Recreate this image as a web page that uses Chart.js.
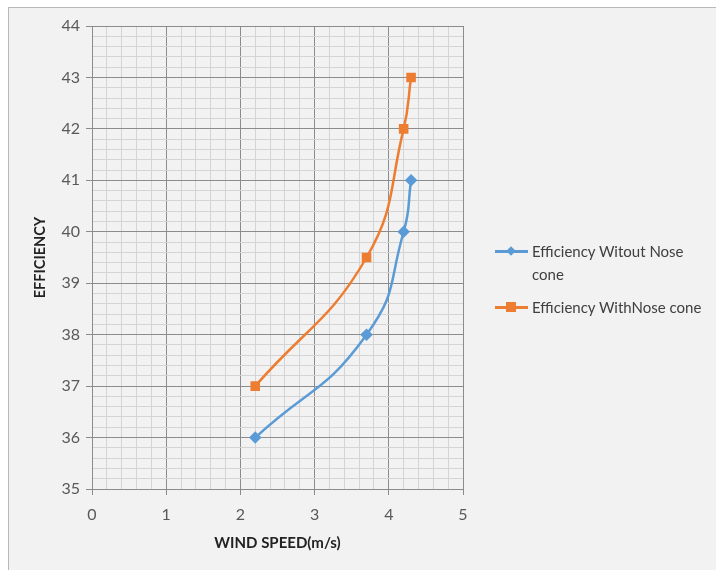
<!DOCTYPE html>
<html>
<head>
  <meta charset="UTF-8">
  <title>Efficiency vs Wind Speed</title>
  <script src="https://cdn.jsdelivr.net/npm/chart.js"></script>
  <style>
    body {
      margin: 0;
      background: #ffffff;
      font-family: Lato, 'Open Sans', sans-serif;
    }

    #frame {
      position: absolute;
      left: 8px;
      top: 7px;
      width: 720px;
      height: 580px;
      background: #f2f2f2;
      border: 1px solid #b8b8b8;
    }

    #wrap {
      position: absolute;
      left: 0;
      top: 0;
      width: 716px;
      height: 570px;
    }

    .legend-item {
      position: absolute;
      left: 495px;
      display: flex;
      align-items: flex-start;
      font-size: 15px;
      color: #404040;
      line-height: 23px;
    }

    .legend-key {
      position: relative;
      width: 33px;
      height: 23px;
      flex: none;
    }

    .legend-key .ln {
      position: absolute;
      left: 0;
      right: 0;
      top: 10px;
      height: 3px;
    }

    .legend-key .mk {
      position: absolute;
      left: 12px;
      top: 7px;
      width: 8px;
      height: 8px;
    }

    .legend-text {
      margin-left: 4px;
    }
  </style>
</head>
<body>
  <div id="frame"></div>
  <div id="wrap"><canvas id="chart" width="716" height="570"></canvas></div>
  <div id="legend"></div>

  <script>
    const seriesNames = ['Efficiency Witout Nose cone', 'Efficiency WithNose cone'];
    const windSpeed = [2.2, 3.7, 4.2, 4.3];
    const effWithout = [36, 38, 40, 41];
    const effWith = [37, 39.5, 42, 43];
    const xTicks = [0, 1, 2, 3, 4, 5];
    const yTicks = [35, 36, 37, 38, 39, 40, 41, 42, 43, 44];

    const colors = ['#5b9bd5', '#ed7d31'];
    const isMajor = v => Math.abs(v - Math.round(v)) < 1e-6;

    function gridColor(ctx) {
      return isMajor(ctx.tick.value) ? '#8c8c8c' : '#d4d4d4';
    }
    function tickColor(ctx) {
      return isMajor(ctx.tick.value) ? '#8c8c8c' : 'rgba(0,0,0,0)';
    }

    const toPoints = ys => windSpeed.map((x, i) => ({ x: x, y: ys[i] }));

    new Chart(document.getElementById('chart'), {
      type: 'scatter',
      data: {
        datasets: [
          {
            label: seriesNames[0],
            data: toPoints(effWithout),
            showLine: true,
            borderColor: colors[0],
            backgroundColor: colors[0],
            borderWidth: 2.5,
            tension: 0.5,
            pointStyle: 'rectRot',
            pointRadius: 4.5,
            pointHoverRadius: 4.5
          },
          {
            label: seriesNames[1],
            data: toPoints(effWith),
            showLine: true,
            borderColor: colors[1],
            backgroundColor: colors[1],
            borderWidth: 2.5,
            tension: 0.45,
            pointStyle: 'rect',
            pointRadius: 5,
            pointHoverRadius: 5
          }
        ]
      },
      options: {
        responsive: false,
        animation: false,
        layout: {
          padding: { left: 32, right: 253, top: 26, bottom: 0 }
        },
        plugins: {
          legend: { display: false },
          tooltip: { enabled: false }
        },
        scales: {
          x: {
            type: 'linear',
            min: xTicks[0],
            max: xTicks[xTicks.length - 1],
            ticks: {
              stepSize: 0.2,
              autoSkip: false,
              maxRotation: 0,
              color: '#595959',
              font: { family: 'Lato', size: 16 },
              padding: 10,
              callback: v => (isMajor(v) && xTicks.includes(Math.round(v))) ? String(Math.round(v)) : ''
            },
            grid: {
              color: gridColor,
              tickColor: tickColor,
              tickLength: 6,
              lineWidth: 1
            },
            border: { color: '#8c8c8c' },
            title: {
              display: true,
              text: 'WIND SPEED(m/s)',
              color: '#222222',
              font: { family: 'Lato', size: 15, weight: 'bold' },
              padding: { top: 2, bottom: 18 }
            },
            afterFit: s => { s.height = 81; }
          },
          y: {
            type: 'linear',
            min: yTicks[0],
            max: yTicks[yTicks.length - 1],
            ticks: {
              stepSize: 0.2,
              autoSkip: false,
              color: '#595959',
              font: { family: 'Lato', size: 16 },
              padding: 6,
              callback: v => (isMajor(v) && yTicks.includes(Math.round(v))) ? String(Math.round(v)) : ''
            },
            grid: {
              color: gridColor,
              tickColor: tickColor,
              tickLength: 6,
              lineWidth: 1
            },
            border: { color: '#8c8c8c' },
            title: {
              display: true,
              text: 'EFFICIENCY',
              color: '#222222',
              font: { family: 'Lato', size: 14.5, weight: 'bold' },
              padding: { top: 0, bottom: 8 }
            },
            afterFit: s => { s.width = 60; }
          }
        }
      }
    });

    // legend built from the series names, wrapped like the original
    const legend = document.getElementById('legend');
    const legendTops = [240, 296];
    const textWidths = [165, 200];
    const markerStyles = [
      'transform: rotate(45deg) scale(0.85);',
      'width: 10px; height: 10px; left: 11px; top: 6px;'
    ];
    seriesNames.forEach((name, i) => {
      const item = document.createElement('div');
      item.className = 'legend-item';
      item.style.top = legendTops[i] + 'px';
      item.innerHTML = `
        <div class="legend-key">
          <div class="ln" style="background:${colors[i]}"></div>
          <div class="mk" style="background:${colors[i]};${markerStyles[i]}"></div>
        </div>
        <div class="legend-text" style="width:${textWidths[i]}px">${name}</div>`;
      legend.appendChild(item);
    });
  </script>
</body>
</html>
